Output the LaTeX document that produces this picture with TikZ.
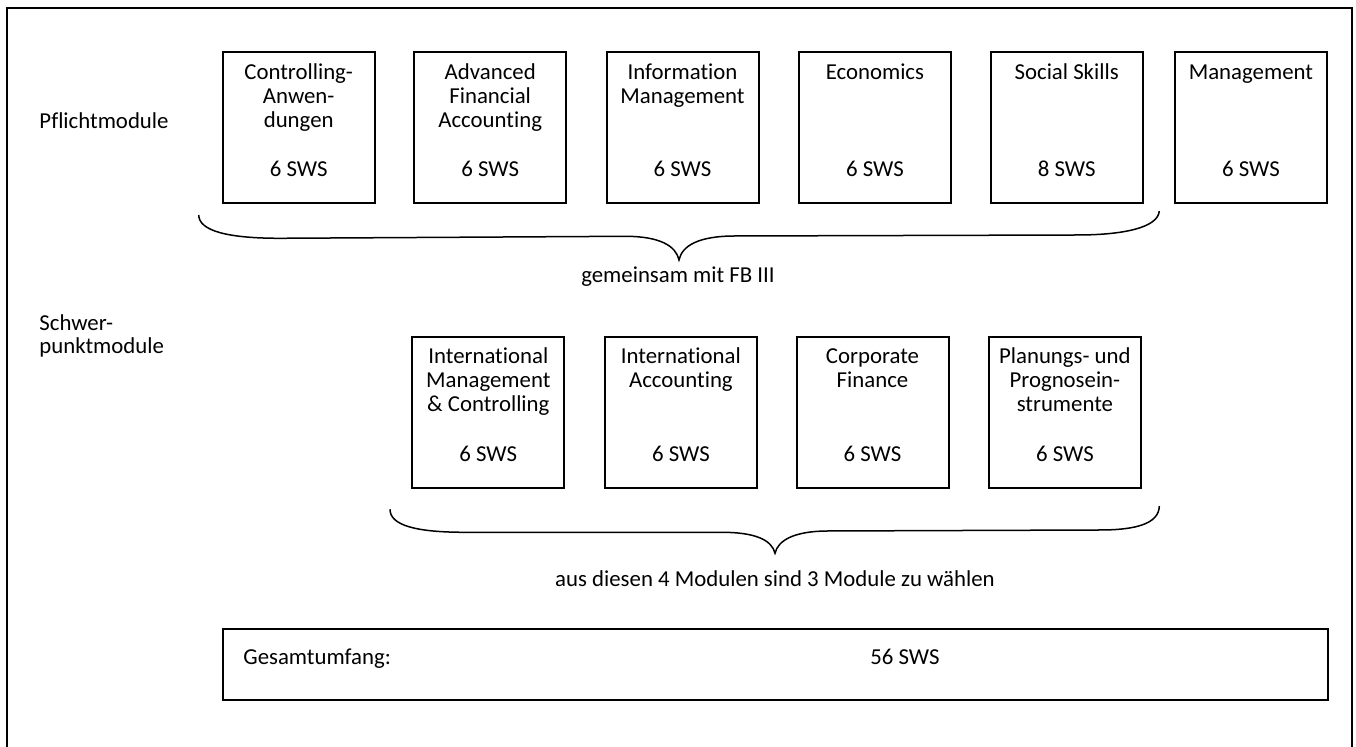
\documentclass[tikz,border=0pt]{standalone}
\usepackage{fontspec}
\setmainfont[Ligatures={NoCommon,NoRare,NoContextual},RawFeature={-liga;-dlig;-calt;-clig}]{Carlito}
\newcommand\mlinesc[1]{\vtop{\baselineskip=12pt\lineskiplimit=-20pt\lineskip=0pt\halign{\hfil##\hfil\cr#1\crcr}}}
\newcommand\mlinesl[1]{\vtop{\baselineskip=11.4pt\lineskiplimit=-20pt\lineskip=0pt\halign{##\hfil\cr#1\crcr}}}
\begin{document}
\begin{tikzpicture}[x=0.5pt,y=-0.5pt,
  modbox/.style={draw, line width=1pt, minimum width=76pt, minimum height=75.5pt, inner sep=0pt},
  txt/.style={font=\fontsize{11.4}{12}\selectfont, inner sep=0pt, anchor=base},
  bracepath/.style={line width=0.75pt},
  frame/.style={line width=1pt}]
\useasboundingbox (0,0) rectangle (1356,747);
\draw[frame] (7,750) -- (7,8.5) -- (1351.5,8.5) -- (1351.5,750);

% row 1
\node[modbox] (p1) at (298.7,127.8) {};
\node[modbox] (p2) at (490.2,127.8) {};
\node[modbox] (p3) at (682.5,127.8) {};
\node[modbox] (p4) at (874.9,127.8) {};
\node[modbox] (p5) at (1066.7,127.8) {};
\node[modbox] (p6) at (1250.9,127.8) {};
\node[txt] (p1t) at ([yshift=-14pt]p1.north) {\mlinesc{Controlling-\cr Anwen-\cr dungen}};
\node[txt] (p2t) at ([yshift=-14pt]p2.north) {\mlinesc{Advanced\cr Financial\cr Accounting}};
\node[txt] (p3t) at ([yshift=-14pt]p3.north) {\mlinesc{Information\cr Management}};
\node[txt] (p4t) at ([yshift=-14pt]p4.north) {Economics};
\node[txt] (p5t) at ([yshift=-14pt]p5.north) {Social Skills};
\node[txt] (p6t) at ([yshift=-14pt]p6.north) {Management};
\node[txt] (p1s) at ([yshift=13.7pt]p1.south) {6 SWS};
\node[txt] (p2s) at ([yshift=13.7pt]p2.south) {6 SWS};
\node[txt] (p3s) at ([yshift=13.7pt]p3.south) {6 SWS};
\node[txt] (p4s) at ([yshift=13.7pt]p4.south) {6 SWS};
\node[txt] (p5s) at ([yshift=13.7pt]p5.south) {8 SWS};
\node[txt] (p6s) at ([yshift=13.7pt]p6.south) {6 SWS};

% row 2
\node[modbox] (s1) at (488.3,412.2) {};
\node[modbox] (s2) at (680.9,412.2) {};
\node[modbox] (s3) at (872.5,412.2) {};
\node[modbox] (s4) at (1064.9,412.2) {};
\node[txt] (s1t) at ([yshift=-13.8pt]s1.north) {\mlinesc{International\cr Management\cr \& Controlling}};
\node[txt] (s2t) at ([yshift=-13.8pt]s2.north) {\mlinesc{International\cr Accounting}};
\node[txt] (s3t) at ([yshift=-13.8pt]s3.north) {\mlinesc{Corporate\cr Finance}};
\node[txt] (s4t) at ([yshift=-13.8pt]s4.north) {\mlinesc{Planungs- und\cr Prognosein-\cr strumente}};
\node[txt] (s1s) at ([yshift=13.8pt]s1.south) {6 SWS};
\node[txt] (s2s) at ([yshift=13.8pt]s2.south) {6 SWS};
\node[txt] (s3s) at ([yshift=13.8pt]s3.south) {6 SWS};
\node[txt] (s4s) at ([yshift=13.8pt]s4.south) {6 SWS};

% side labels
\node[txt, anchor=base west] (pfl) at (39,128.3) {Pflichtmodule};
\node[txt, anchor=base west] (schw) at (39,330.7) {\mlinesl{Schwer-\cr punktmodule}};

% braces
\draw[bracepath] (198.7,215) .. controls (199,231) and (228,238.3) .. (280,238.3)
  -- (625,236.3) .. controls (660,236.3) and (676,246) .. (679,260)
  .. controls (682,246) and (698,236) .. (735,236)
  -- (1077,235) .. controls (1122,235) and (1158,228) .. (1159.3,211);
\node[txt] (gem) at (678,283) {gemeinsam mit FB III};

\draw[bracepath] (390,509.3) .. controls (390,525) and (415,532.3) .. (465,532.3)
  -- (722,532.3) .. controls (755,532.3) and (772,540) .. (775,553.3)
  .. controls (778,540) and (795,531) .. (828,531)
  -- (1100,530) .. controls (1135,530) and (1159,524) .. (1159.3,506);
\node[txt] (aus) at (775,586.5) {aus diesen 4 Modulen sind 3 Module zu wählen};

% total
\node[draw, line width=1pt, minimum width=552.6pt, minimum height=35.5pt, inner sep=0pt] (tot) at (775.1,664.5) {};
\node[txt, anchor=base west] (totl) at (243,665) {Gesamtumfang:};
\node[txt, anchor=base west] (totv) at (870,665) {56 SWS};
\end{tikzpicture}
\end{document}
